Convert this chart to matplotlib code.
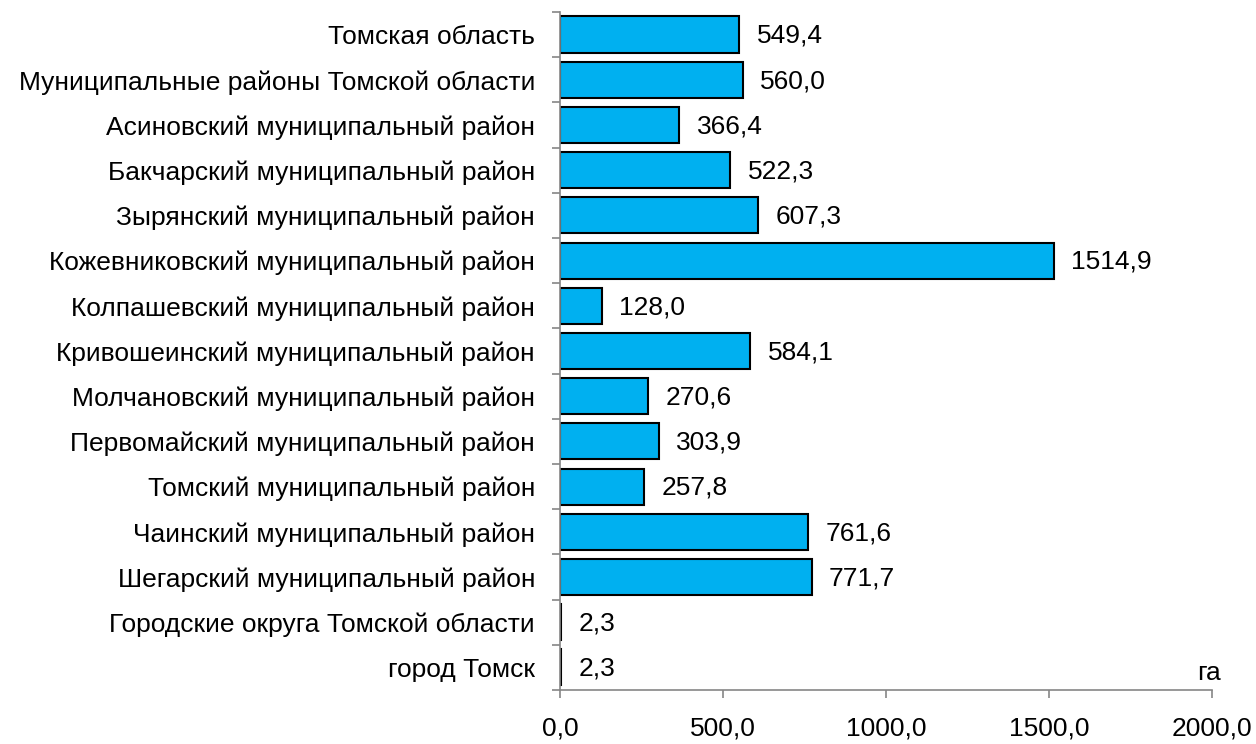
import matplotlib.pyplot as plt
import numpy as np

plt.rcParams['font.family'] = ['Liberation Sans', 'DejaVu Sans']

regions = ["Томская область",
           "Муниципальные районы Томской области",
           "Асиновский муниципальный район",
           "Бакчарский муниципальный район",
           "Зырянский муниципальный район",
           "Кожевниковский муниципальный район",
           "Колпашевский муниципальный район",
           "Кривошеинский муниципальный район",
           "Молчановский муниципальный район",
           "Первомайский муниципальный район",
           "Томский муниципальный район",
           "Чаинский муниципальный район",
           "Шегарский муниципальный район",
           "Городские округа Томской области",
           "город Томск"]
values = [549.4, 560.0, 366.4, 522.3, 607.3, 1514.9, 128.0, 584.1,
          270.6, 303.9, 257.8, 761.6, 771.7, 2.3, 2.3]
xticks = [0, 500, 1000, 1500, 2000]

fs = 19
fig = plt.figure(figsize=(12.56, 7.44), dpi=100)
ax = fig.add_axes([0.4459, 0.0726, 0.965 - 0.4459, 0.9839 - 0.0726])

y = np.arange(len(regions))
ax.barh(y, values, height=0.8, color='#00B0F0', edgecolor='black', linewidth=1.5)

# подписи значений
for yi, v in zip(y, values):
    ax.annotate(f"{v:.1f}".replace('.', ','), xy=(v, yi), xytext=(12.5, -1),
                textcoords='offset points', va='center', ha='left', fontsize=fs)

ax.set_xlim(0, 2000)
ax.set_ylim(len(regions) - 0.5, -0.5)

ax.set_xticks(xticks)
ax.set_xticklabels([f"{t:.1f}".replace('.', ',') for t in xticks], fontsize=fs)
ax.set_yticks(y)
ax.set_yticklabels(regions, fontsize=fs)
ax.set_yticks(np.arange(-0.5, len(regions)), minor=True)

gray = '#868686'
ax.tick_params(axis='y', which='major', length=0, pad=18)
ax.tick_params(axis='y', which='minor', length=6, color=gray, width=1.2)
ax.tick_params(axis='x', length=6, color=gray, width=1.2, pad=13)

for s in ['top', 'right']:
    ax.spines[s].set_visible(False)
for s in ['left', 'bottom']:
    ax.spines[s].set_color(gray)
    ax.spines[s].set_linewidth(1.2)

ax.annotate("га", xy=(2000, 14.5), xytext=(-2, 7), textcoords='offset points',
            ha='center', va='baseline', fontsize=fs)

fig.savefig("out.png", dpi=100)
